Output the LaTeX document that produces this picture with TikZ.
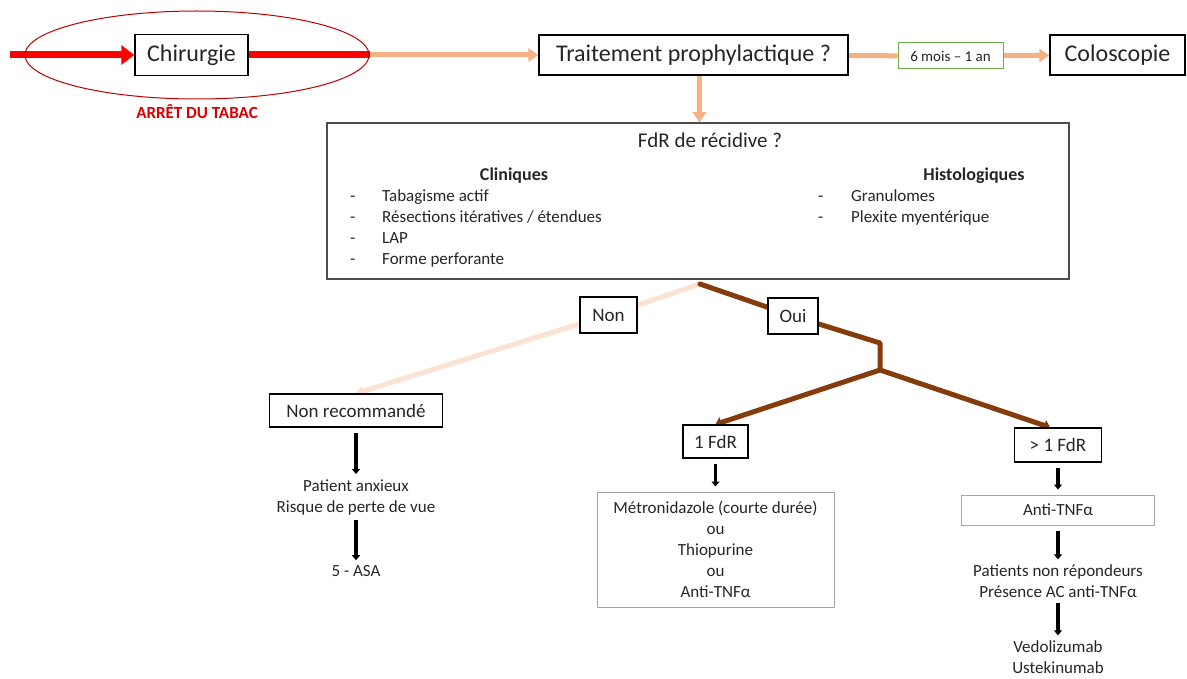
\documentclass[tikz,border=0pt]{standalone}
\usepackage{fontspec}
\setmainfont{Carlito}
\usepackage{tikz}
\usepackage{xcolor}
\usetikzlibrary{shapes.geometric,arrows.meta,backgrounds}

\definecolor{rouge}{HTML}{FF0000}
\definecolor{rougefonce}{HTML}{C00000}
\definecolor{saumon}{HTML}{F4B183}
\definecolor{peche}{HTML}{FBE3D3}
\definecolor{brun}{HTML}{843C0C}
\definecolor{vert}{HTML}{70AD47}
\definecolor{gris}{HTML}{A6A6A6}
\definecolor{texte}{HTML}{262626}

\tikzset{
  grand/.style={font=\fontsize{24}{28}\selectfont},
  moyen/.style={font=\fontsize{19}{22}\selectfont},
  petit/.style={font=\fontsize{17}{21}\selectfont},
  boite/.style={rectangle, draw=black, line width=1.3pt, fill=white, inner sep=0pt, text=texte},
  grisboite/.style={rectangle, draw=gris, line width=1pt, fill=white, inner sep=0pt, text=texte, align=center, petit},
  libre/.style={inner sep=0pt, text=texte, align=center, petit},
  item/.style={inner sep=0pt, text=texte, petit, anchor=base west},
  fleche rouge/.style={draw=rouge, line width=7pt, -{Triangle[length=13pt,width=19pt]}},
  trait rouge/.style={draw=rouge, line width=7pt},
  trait saumon/.style={draw=saumon, line width=5pt},
  fleche saumon/.style={draw=saumon, line width=5pt, -{Triangle[length=10pt,width=13pt]}},
  fleche peche/.style={draw=peche, line width=5pt, -{Triangle[length=8pt,width=11pt]}},
  trait brun/.style={draw=brun, line width=5pt, line cap=round, line join=round},
  fleche brun/.style={draw=brun, line width=5pt, line cap=round, -{Triangle[length=6pt,width=11pt]}},
  fleche noire/.style={draw=black, line width=3.5pt, -{Triangle[length=5pt,width=8pt]}, shorten <=5pt, shorten >=5pt}
}

\begin{document}
\begin{tikzpicture}[x=1pt, y=-1pt]
\useasboundingbox (0,0) rectangle (1187,679);

% ligne du haut
\node[ellipse, draw=rougefonce, line width=1pt, minimum width=344pt, minimum height=88pt] (tabac) at (197,55) {};
\node[boite, grand, minimum width=113pt, minimum height=41pt] (chir) at (191.5,55) {Chirurgie};
\node[inner sep=0pt, text=rouge!85!black, font=\bfseries\fontsize{17}{20}\selectfont] (arret) at (197,112) {ARRÊT DU TABAC};
\node[boite, grand, minimum width=309pt, minimum height=40pt] (proph) at (693.5,55) {Traitement prophylactique ?};
\node[rectangle, draw=vert, line width=1pt, fill=white, inner sep=0pt, text=texte, font=\fontsize{15}{18}\selectfont, minimum width=105pt, minimum height=26pt] (delai) at (950.5,56) {6 mois – 1 an};
\node[boite, grand, minimum width=135pt, minimum height=40pt] (colo) at (1117.5,55) {Coloscopie};
\coordinate (debut) at (10,55);

% facteurs de risque
\node[rectangle, draw=black!70, line width=1.5pt, fill=white, minimum width=742pt, minimum height=156pt] (fdr) at (698,201) {};
\node[inner sep=0pt, text=texte, font=\fontsize{21}{24}\selectfont, anchor=base] (titre) at (710,148) {FdR de récidive ?};
\node[inner sep=0pt, text=texte, font=\bfseries\fontsize{18}{21}\selectfont, anchor=base] (clin) at (514,181) {Cliniques};
\node[inner sep=0pt, text=texte, font=\bfseries\fontsize{18}{21}\selectfont, anchor=base] (histo) at (974,181) {Histologiques};
\foreach \t [count=\i] in {Tabagisme actif, Résections itératives / étendues, LAP, Forme perforante} {
  \node[item] (clin\i) at (382,{181+21*\i}) {\t};
  \node[item] at (350,{181+21*\i}) {-};
}
\foreach \t [count=\i] in {Granulomes, Plexite myentérique} {
  \node[item] (histo\i) at (851,{181+21*\i}) {\t};
  \node[item] at (818,{181+21*\i}) {-};
}

% branches
\coordinate (depart) at (700,284);
\coordinate (coude) at (880,343);
\coordinate (fourche) at (880,370);
\node[boite, moyen, minimum width=57pt, minimum height=36pt] (non) at (608.5,315) {Non};
\node[boite, moyen, minimum width=50pt, minimum height=36pt] (oui) at (793,316) {Oui};
\node[boite, moyen, minimum width=173pt, minimum height=33pt] (nonrec) at (356,410.5) {Non recommandé};
\node[boite, moyen, minimum width=65pt, minimum height=33pt] (un) at (715.5,441.5) {1 FdR};
\node[boite, moyen, minimum width=87pt, minimum height=34pt] (plus) at (1058,445) {> 1 FdR};

% traitements
\node[libre] (anx) at (356,497) {Patient anxieux\\Risque de perte de vue};
\node[libre] (asa) at (356,571) {5 - ASA};
\node[grisboite, minimum width=237pt, minimum height=115pt] (met) at (715.5,549.5) {Métronidazole (courte durée)\\ou\\Thiopurine\\ou\\Anti-TNFα};
\node[grisboite, minimum width=193pt, minimum height=30pt] (anti) at (1058,510) {Anti-TNFα};
\node[libre] (nonrep) at (1058,581) {Patients non répondeurs\\Présence AC anti-TNFα};
\node[libre] (vedo) at (1058,657) {Vedolizumab\\Ustekinumab};

\begin{scope}[on background layer]
\draw[fleche rouge] (debut) -- (chir);
\draw[trait rouge] (chir) -- (tabac.east);
\draw[fleche saumon] (tabac.east) -- (proph);
\draw[trait saumon] (proph) -- (delai);
\draw[fleche saumon] (delai) -- (colo);
\draw[fleche saumon] ([xshift=6pt]proph.south) -- ([xshift=6pt]proph.south |- fdr.north);
\draw[fleche peche] (depart) -- (non) -- (nonrec.north);
\draw[trait brun] (depart) -- (oui) -- (coude) -- (fourche);
\draw[fleche brun] (fourche) -- (un.north);
\draw[fleche brun] (fourche) -- ([xshift=-8pt]plus.north);
\end{scope}
\draw[fleche noire] (nonrec) -- (anx);
\draw[fleche noire] (anx) -- (asa);
\draw[fleche noire] (un) -- (met);
\draw[fleche noire] (plus) -- (anti);
\draw[fleche noire] (anti) -- (nonrep);
\draw[fleche noire] (nonrep) -- (vedo);
\end{tikzpicture}
\end{document}
